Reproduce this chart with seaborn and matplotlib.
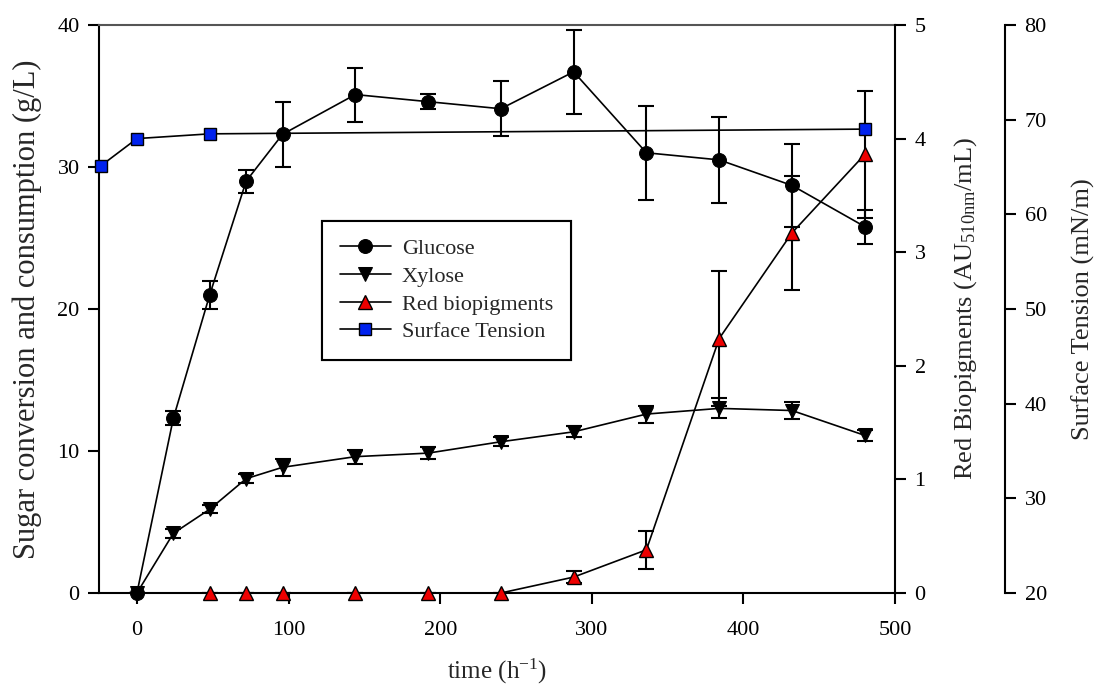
import matplotlib
matplotlib.use("Agg")
import matplotlib.pyplot as plt
import seaborn as sns
import pandas as pd

# ---- data ----
time = [0, 24, 48, 72, 96, 144, 192, 240, 288, 336, 384, 432, 480]
glucose = [0, 12.3, 21.0, 29.0, 32.3, 35.1, 34.6, 34.1, 36.7, 31.0, 30.5, 28.7, 25.8]
glucose_err = [0, 0.5, 1.0, 0.8, 2.3, 1.9, 0.55, 1.95, 2.95, 3.3, 3.05, 2.95, 1.2]
xylose = [0, 4.2, 5.9, 8.05, 8.85, 9.6, 9.85, 10.65, 11.35, 12.6, 13.0, 12.85, 11.1]
xylose_err = [0, 0.3, 0.3, 0.3, 0.6, 0.5, 0.4, 0.3, 0.4, 0.6, 0.7, 0.6, 0.4]

time_red = [48, 72, 96, 144, 192, 240, 288, 336, 384, 432, 480]
red = [0, 0, 0, 0, 0, 0, 0.14, 0.38, 2.24, 3.17, 3.86]
red_err = [0, 0, 0, 0, 0, 0, 0.05, 0.17, 0.59, 0.5, 0.56]

time_st = [-24, 0, 48, 480]
surface_tension = [65.1, 68.0, 68.5, 69.0]

x_ticks = [0, 100, 200, 300, 400, 500]
left_ticks = [0, 10, 20, 30, 40]
red_ticks = [0, 1, 2, 3, 4, 5]
st_ticks = [20, 30, 40, 50, 60, 70, 80]

sns.set_theme(style="ticks")
plt.rcParams["font.family"] = ["Liberation Serif", "DejaVu Serif"]
plt.rcParams["mathtext.fontset"] = "custom"
plt.rcParams["mathtext.rm"] = "Liberation Serif"
plt.rcParams["mathtext.it"] = "Liberation Serif"

fig = plt.figure(figsize=(10.98, 6.88), dpi=100)
ax = fig.add_axes([0.0902, 0.1381, 0.725, 0.8256])
ax2 = ax.twinx()
ax3 = ax.twinx()
ax3.spines["right"].set_position(("axes", 1 + 110 / 796))

lw = 1.2
ebkw = dict(fmt="none", ecolor="black", elinewidth=1.5, capsize=6, capthick=1.5)

df_g = pd.DataFrame({"t": time, "v": glucose})
df_x = pd.DataFrame({"t": time, "v": xylose})
df_r = pd.DataFrame({"t": time_red, "v": red})
df_s = pd.DataFrame({"t": time_st, "v": surface_tension})

ax.errorbar(time, glucose, yerr=glucose_err, zorder=3, **ebkw)
ax.errorbar(time, xylose, yerr=xylose_err, zorder=3, **ebkw)
sns.lineplot(data=df_g, x="t", y="v", ax=ax, color="black", lw=lw, marker="o",
             markersize=10, markerfacecolor="black", markeredgecolor="black",
             label="Glucose", legend=False, zorder=4, clip_on=False)
sns.lineplot(data=df_x, x="t", y="v", ax=ax, color="black", lw=lw, marker="v",
             markersize=10, markerfacecolor="black", markeredgecolor="black",
             label="Xylose", legend=False, zorder=4, clip_on=False)

ax2.errorbar(time_red, red, yerr=red_err, zorder=3, **ebkw)
sns.lineplot(data=df_r, x="t", y="v", ax=ax2, color="black", lw=lw, marker="^",
             markersize=10, markerfacecolor="#ee0000", markeredgecolor="black",
             markeredgewidth=1.0, label="Red biopigments", legend=False,
             zorder=4, clip_on=False)

sns.lineplot(data=df_s, x="t", y="v", ax=ax3, color="black", lw=lw, marker="s",
             markersize=9, markerfacecolor="#0022ee", markeredgecolor="black",
             markeredgewidth=1.0, label="Surface Tension", legend=False,
             zorder=4, clip_on=False)

ax.set_xlim(-25, 500)
ax.set_ylim(0, 40)
ax2.set_ylim(0, 5)
ax3.set_ylim(20, 80)
ax.set_xticks(x_ticks)
ax.set_yticks(left_ticks)
ax2.set_yticks(red_ticks)
ax3.set_yticks(st_ticks)

tick_fs = 16
for a in (ax, ax2, ax3):
    a.tick_params(axis="both", direction="out", length=8, width=1.5,
                  labelsize=tick_fs, colors="black", pad=6)
    for s in a.spines.values():
        s.set_linewidth(1.5)
        s.set_color("black")
ax.tick_params(axis="x", pad=12)

ax.spines["top"].set_visible(True)
ax.spines["top"].set_color("#555555")
ax.spines["top"].set_linewidth(1.5)
ax.spines["right"].set_visible(False)
for a in (ax2, ax3):
    a.spines["top"].set_visible(False)
    a.spines["left"].set_visible(False)
    a.spines["bottom"].set_visible(False)
ax2.spines["right"].set_visible(True)
ax3.spines["right"].set_visible(True)

ax.set_xlabel(r"time (h$^{\mathregular{-1}}$)", fontsize=18, labelpad=12)
ax.set_ylabel("Sugar conversion and consumption (g/L)", fontsize=22, labelpad=11)
ax2.set_ylabel(r"Red Biopigments (AU$_{\mathregular{510nm}}$/mL)", fontsize=19, labelpad=19)
ax3.set_ylabel("Surface Tension (mN/m)", fontsize=19, labelpad=18)

handles = ax.get_lines() + ax2.get_lines() + ax3.get_lines()
handles = [h for h in handles if h.get_label() in
           ("Glucose", "Xylose", "Red biopigments", "Surface Tension")]
leg = ax3.legend(handles=handles, loc="upper left",
                 bbox_to_anchor=(0.280, 0.655), fontsize=16, frameon=True,
                 fancybox=False, edgecolor="black", framealpha=1,
                 handlelength=2.3, labelspacing=0.32, borderpad=0.8,
                 handletextpad=0.5, borderaxespad=0)
leg.get_frame().set_linewidth(1.5)
ax3.add_artist(leg)

fig.savefig("out.png", dpi=100)
